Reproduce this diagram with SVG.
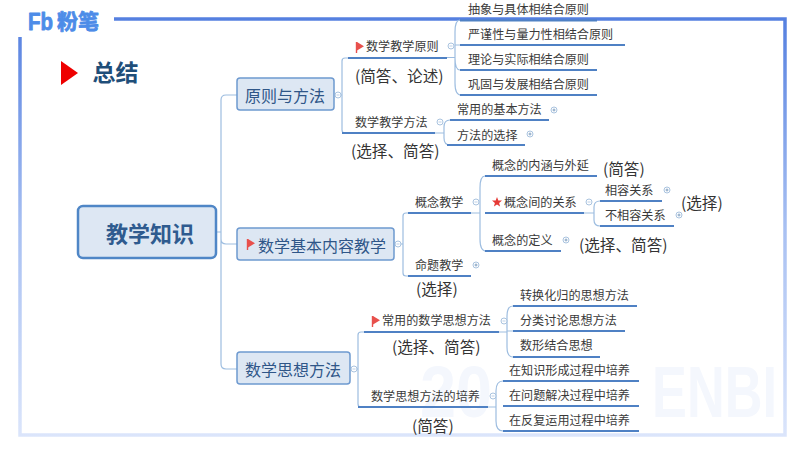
<svg xmlns="http://www.w3.org/2000/svg" xmlns:xlink="http://www.w3.org/1999/xlink" width="800" height="450" viewBox="0 0 800 450">
<defs>
<linearGradient id="fr" gradientUnits="userSpaceOnUse" x1="0" y1="19" x2="0" y2="436"><stop offset="0" stop-color="#5580e0"/><stop offset="0.5" stop-color="#a8c0f2"/><stop offset="1" stop-color="#dbe5fb"/></linearGradient>
<g id="minus"><circle r="3" fill="#fff" stroke="#a9c3df" stroke-width="1"/><path d="M-1.500 0H1.500" stroke="#a9c3df" stroke-width=".8"/></g>
<g id="plus"><circle r="3" fill="#fff" stroke="#a9c3df" stroke-width="1"/><path d="M-1.500 0H1.500M0 -1.500V1.500" stroke="#6b8fb5" stroke-width=".8"/></g>
<path id="flag" d="M0 0V11" stroke="#e8504c" stroke-width="1.400"/>
<path id="flagS" d="M0 0L7 4.200L0 8.500Z" fill="#e8504c"/>
</defs>
<style>
text{font-family:"Noto Sans CJK SC","Noto Sans",sans-serif}
.t{font-size:12.1px;fill:#3a3a3a;dominant-baseline:central}
.n{font-size:16px;fill:#2f5688;dominant-baseline:central}
.a{font-size:15.6px;fill:#333;dominant-baseline:central}
.u{stroke:#4f81c4;stroke-width:1.800;fill:none}
.c{stroke:#9dbde0;stroke-width:1.200;fill:none}
.b{fill:#dde7f3;stroke:#6e9ad0;stroke-width:1.500}
</style>
<rect width="800" height="450" fill="#fff"/>
<g id="frame" fill="none" stroke="url(#fr)" stroke-width="3.500">
<path d="M114 19H785V435H20V37"/>
</g>
<g id="watermark" font-weight="700" fill="#f4f7fd" font-family="Liberation Sans"><text x="420" y="417" font-size="72" style="font-family:'Liberation Sans'" textLength="72" lengthAdjust="spacingAndGlyphs">20</text><text x="652" y="417" font-size="72" style="font-family:'Liberation Sans'" textLength="125" lengthAdjust="spacingAndGlyphs">ENBI</text></g>
<g id="logo" fill="#4d8ce8" stroke="#4d8ce8" stroke-width=".8" stroke-linejoin="round"><text x="28" y="30" font-size="23" font-weight="700" style="font-family:'Liberation Sans'" textLength="25" lengthAdjust="spacingAndGlyphs">Fb</text><text x="57" y="29" font-size="21" font-weight="700">粉笔</text></g>
<g id="title"><path d="M61 61L78 73L61 85Z" fill="#ee0000"/><text x="92.500" y="81" font-size="23" font-weight="700" fill="#1f4e79">总结</text></g>
<g id="connectors">
<path class="c" d="M216 232H221M237 95H226Q221 95 221 100V364Q221 369 226 369H237M221 239Q221 244 226 244H237"/>
<path class="c" d="M334 95H342M348 58H345Q342 58 342 61V130Q342 133 345 133H348"/>
<path class="c" d="M447 57.500H455M460 20Q455 20 455 32V83Q455 95 461 95M455 45H460M455 58Q455 70 460 70"/>
<path class="c" d="M435 133H444M450 120Q444 120 444 127V138Q444 145 450 145"/>
<path class="c" d="M394 244H403M408 213H406Q403 213 403 216V273Q403 276 406 276H408"/>
<path class="c" d="M471 213H480M485 176Q480 176 480 188V239Q480 251 486 251"/>
<path class="c" d="M584 213H594M600 201Q594 201 594 207V220Q594 226 600 226"/>
<path class="c" d="M350 369H358M364 332H361Q358 332 358 335V404Q358 407 361 407H364"/>
<path class="c" d="M499 332H507M513 306Q507 306 507 316V347Q507 357 513 357M507 331H513"/>
<path class="c" d="M488 407H496M503 381Q496 381 496 391V421Q496 431 503 431"/>
</g>
<g id="root"><rect x="78" y="206" width="138" height="52" rx="5" fill="#dde7f3" stroke="#4f86c6" stroke-width="2.500"/><text x="106" y="232" font-size="22" font-weight="700" fill="#2f5b8f" dominant-baseline="central">教学知识</text></g>
<g id="n1"><rect class="b" x="237" y="78" width="97" height="32" rx="3"/><text class="n" x="245" y="94.500">原则与方法</text><use xlink:href="#minus" x="338" y="95"/></g>
<g id="n2"><rect class="b" x="237" y="228" width="157" height="32" rx="3"/><use xlink:href="#flag" x="247.500" y="239"/><use xlink:href="#flagS" x="248" y="239"/><text class="n" x="258" y="244.500">数学基本内容教学</text><use xlink:href="#minus" x="398" y="244"/></g>
<g id="n3"><rect class="b" x="237" y="352" width="113" height="32" rx="3"/><text class="n" x="245" y="368.500">数学思想方法</text><use xlink:href="#minus" x="354" y="369"/></g>
<g id="n11"><use xlink:href="#flag" x="356.500" y="42"/><use xlink:href="#flagS" x="357" y="42"/><text class="t" x="366" y="45.300">数学教学原则</text><path class="u" d="M348 58H447"/><use xlink:href="#minus" x="451" y="46"/></g>
<g id="n111"><text class="t" x="468" y="8.300">抽象与具体相结合原则</text><path class="u" d="M460 20.500H597"/></g>
<g id="n112"><text class="t" x="468" y="33.300">严谨性与量力性相结合原则</text><path class="u" d="M460 45H625"/></g>
<g id="n113"><text class="t" x="468" y="58.300">理论与实际相结合原则</text><path class="u" d="M460 70H597"/></g>
<g id="n114"><text class="t" x="468" y="83.300">巩固与发展相结合原则</text><path class="u" d="M460 95H597"/></g>
<g id="n12"><text class="t" x="355" y="121.300">数学教学方法</text><path class="u" d="M342 133H435"/><use xlink:href="#minus" x="440" y="122"/></g>
<g id="n121"><text class="t" x="457" y="108.300">常用的基本方法</text><path class="u" d="M450 120H549"/><use xlink:href="#plus" x="554" y="110"/></g>
<g id="n122"><text class="t" x="457" y="134.300">方法的选择</text><path class="u" d="M447 145H525"/><use xlink:href="#plus" x="530" y="134"/></g>
<g id="n21"><text class="t" x="415" y="201.300">概念教学</text><path class="u" d="M408 213H471"/><use xlink:href="#minus" x="476" y="202"/></g>
<g id="n211"><text class="t" x="492" y="164.300">概念的内涵与外延</text><path class="u" d="M485 176H597"/></g>
<g id="n212"><polygon points="497,197 498.300,200.400 502,200.600 499.100,202.900 500.100,206.500 497,204.500 493.900,206.500 494.900,202.900 492,200.600 495.700,200.400" fill="#e53935"/><text class="t" x="504" y="201.300">概念间的关系</text><path class="u" d="M485 213H584"/><use xlink:href="#minus" x="589" y="202"/></g>
<g id="n2121"><text class="t" x="605" y="189.300">相容关系</text><path class="u" d="M600 201H662"/><use xlink:href="#plus" x="667" y="190"/></g>
<g id="n2122"><text class="t" x="605" y="214.300">不相容关系</text><path class="u" d="M600 226H674"/><use xlink:href="#plus" x="679" y="215"/></g>
<g id="n213"><text class="t" x="492" y="239.300">概念的定义</text><path class="u" d="M485 251H561"/><use xlink:href="#plus" x="566" y="240"/></g>
<g id="n22"><text class="t" x="415" y="264.300">命题教学</text><path class="u" d="M408 276H471"/><use xlink:href="#plus" x="476" y="265"/></g>
<g id="n31"><use xlink:href="#flag" x="372.500" y="316"/><use xlink:href="#flagS" x="373" y="316"/><text class="t" x="382" y="319.300">常用的数学思想方法</text><path class="u" d="M364 332H499"/><use xlink:href="#minus" x="504" y="321"/></g>
<g id="n311"><text class="t" x="520" y="294.300">转换化归的思想方法</text><path class="u" d="M513 306H637"/></g>
<g id="n312"><text class="t" x="520" y="319.300">分类讨论思想方法</text><path class="u" d="M513 331H625"/></g>
<g id="n313"><text class="t" x="520" y="344.300">数形结合思想</text><path class="u" d="M513 357H600"/></g>
<g id="n32"><text class="t" x="371" y="395.300">数学思想方法的培养</text><path class="u" d="M358 407H488"/><use xlink:href="#minus" x="493" y="396"/></g>
<g id="n321"><text class="t" x="509" y="369.300">在知识形成过程中培养</text><path class="u" d="M503 381H639"/></g>
<g id="n322"><text class="t" x="509" y="394.300">在问题解决过程中培养</text><path class="u" d="M503 406H639"/></g>
<g id="n323"><text class="t" x="509" y="419.300">在反复运用过程中培养</text><path class="u" d="M503 431H639"/></g>
<g id="notes">
<text class="a" x="355" y="74.800">(简答、论述)</text>
<text class="a" x="351" y="149.800">(选择、简答)</text>
<text class="a" x="603" y="167.800">(简答)</text>
<text class="a" x="681" y="201.800">(选择)</text>
<text class="a" x="579" y="243.800">(选择、简答)</text>
<text class="a" x="416" y="287.800">(选择)</text>
<text class="a" x="392" y="345.800">(选择、简答)</text>
<text class="a" x="412" y="424.800">(简答)</text>
</g>
</svg>
